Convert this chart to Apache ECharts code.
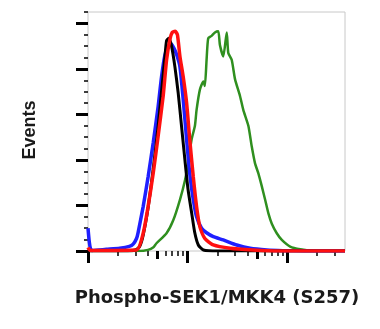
<!DOCTYPE html>
<html>
<head>
<meta charset="utf-8">
<script src="https://cdn.jsdelivr.net/npm/echarts@6/dist/echarts.min.js"></script>
<style>
  html, body { margin: 0; padding: 0; background: #fff; }
  #chart { width: 380px; height: 329px; }
</style>
</head>
<body>
<div id="chart"></div>
<script>
// histogram data (x = fluorescence, y = events)
const blueX = [1, 1.03, 1.06, 1.1, 1.53, 2.08, 2.6, 2.84, 3.07, 3.18, 3.58, 4.01, 4.51, 5.06, 5.47, 5.91, 6.38, 6.8, 7.3, 7.8, 8.37, 9.03, 9.77, 10.5, 11.4, 12.3, 13.8, 15.5, 18.1, 22.8, 31.1, 42.4, 62.4, 90, 150, 380];
const blueY = [20, 8, 2, 0.5, 1.5, 2.4, 4, 6, 11, 16, 39, 65, 95, 127, 153, 172, 180, 182, 178, 172, 162, 133, 98, 68, 45, 30, 20, 16, 12.6, 9.7, 5.3, 2.4, 0.9, 0.3, 0, 0];

const blackX = [1, 2.5, 3.0, 3.3, 3.58, 4.01, 4.51, 5.06, 5.47, 5.91, 6.15, 6.5, 6.9, 7.45, 8.04, 8.7, 9.39, 10.1, 11.0, 11.8, 12.8, 14.4, 20, 380];
const blackY = [0, 0, 1, 4, 14, 38, 72, 110, 140, 170, 185, 187, 180, 162, 139, 109, 80, 54, 33, 16, 5.3, 0.9, 0, 0];

const redX = [1, 1.05, 3.07, 3.58, 4.01, 4.51, 5.06, 5.68, 6.15, 6.64, 7.0, 7.5, 7.9, 8.37, 9.03, 9.77, 10.5, 11.4, 12.3, 13.3, 14.9, 18.1, 26.7, 45.4, 80, 380];
const redY = [3, 0.5, 0.9, 15.6, 39, 68, 101, 136, 168, 186, 192, 193, 190, 171, 153, 130, 98, 65, 39, 21, 11, 5.3, 2.4, 0.9, 0, 0];

const greenX = [1, 3.3, 4.0, 4.5, 4.87, 6.14, 7.17, 8.37, 9.4, 10.1, 10.96, 11.84, 12.3, 13.3, 14.4, 14.9, 15.5, 16.1, 17.4, 18.8, 20.3, 21.1, 22.8, 24.7, 25.6, 27.7, 29.9, 33.6, 36.2, 40.7, 44.0, 47.5, 51.4, 55.5, 60, 64.7, 70, 78.5, 88.2, 107, 135, 184, 380];
const greenY = [0, 0, 1, 3, 6.8, 15.6, 27, 45, 62, 77, 98, 110, 124, 142, 149, 145, 168, 187, 189, 192, 193, 181, 171, 192, 174, 168, 151, 136, 124, 110, 92, 77, 68, 57, 45, 33, 24, 15.6, 9.7, 3.8, 1.5, 0.3, 0];

// tick marks
const xMax = 380;
const xMajorTicks = [1, 10, 100];
const xMidTicks = [5, 50];
const xMinorTicks = [2, 3, 4, 6, 7, 8, 9, 20, 30, 40, 60, 70, 80, 90, 200, 300];
const yMajorTicks = [0, 40, 80, 120, 160, 200];
const yMinorTicks = [10, 20, 30, 50, 60, 70, 90, 100, 110, 130, 140, 150, 170, 180, 190, 210];

const chart = echarts.init(document.getElementById('chart'));

function pairs(xs, ys) {
  return xs.map((x, i) => [x, ys[i]]);
}

// value axis in log10 units, used only to draw log-spaced ticks
function tickXAxis(values, len, width) {
  return {
    type: 'value',
    position: 'bottom',
    min: 0,
    max: Math.log10(xMax),
    axisLine: { show: false },
    splitLine: { show: false },
    axisLabel: { show: false },
    axisTick: {
      show: true,
      length: len,
      customValues: values.map(v => Math.log10(v)),
      lineStyle: { color: '#000', width: width }
    }
  };
}

function tickYAxis(values, len, width) {
  return {
    type: 'value',
    position: 'left',
    min: 0,
    max: 210,
    axisLine: { show: false },
    splitLine: { show: false },
    axisLabel: { show: false },
    axisTick: {
      show: true,
      length: len,
      customValues: values,
      lineStyle: { color: '#000', width: width }
    }
  };
}

function histLine(name, xs, ys, color, width) {
  return {
    name: name,
    type: 'line',
    xAxisIndex: 0,
    yAxisIndex: 0,
    showSymbol: false,
    smooth: 0.2,
    data: pairs(xs, ys),
    lineStyle: { color: color, width: width },
    itemStyle: { color: color }
  };
}

const option = {
  animation: false,
  backgroundColor: '#fff',
  grid: {
    left: 88,
    right: 35,
    top: 12,
    bottom: 78,
    show: true,
    borderColor: '#c8c8c8',
    borderWidth: 1,
    containLabel: false
  },
  xAxis: [
    {
      type: 'log',
      position: 'bottom',
      min: 1,
      max: xMax,
      axisLine: { show: false },
      axisTick: { show: false },
      axisLabel: { show: false },
      splitLine: { show: false },
      minorTick: { show: false }
    },
    tickXAxis(xMajorTicks, 12, 3),
    tickXAxis(xMidTicks, 8, 3),
    tickXAxis(xMinorTicks, 5, 1.5)
  ],
  yAxis: [
    tickYAxis(yMajorTicks, 12, 3),
    tickYAxis(yMinorTicks, 4, 1.5)
  ],
  graphic: [
    {
      type: 'text',
      x: 30,
      y: 130,
      rotation: Math.PI / 2,
      style: {
        text: 'Events',
        font: 'bold 18px "Liberation Sans", Arial, sans-serif',
        fill: '#1a1a1a',
        textAlign: 'center',
        textVerticalAlign: 'middle'
      }
    },
    {
      type: 'text',
      x: 217,
      y: 298,
      style: {
        text: 'Phospho-SEK1/MKK4 (S257)',
        font: 'bold 18px "DejaVu Sans", sans-serif',
        fill: '#1a1a1a',
        textAlign: 'center',
        textVerticalAlign: 'middle'
      }
    }
  ],
  series: [
    histLine('green', greenX, greenY, '#2f8f1f', 2.5),
    histLine('blue', blueX, blueY, '#1f1fff', 3.5),
    histLine('black', blackX, blackY, '#000000', 3),
    histLine('red', redX, redY, '#ff1010', 3.5)
  ]
};

chart.setOption(option);
</script>
</body>
</html>
